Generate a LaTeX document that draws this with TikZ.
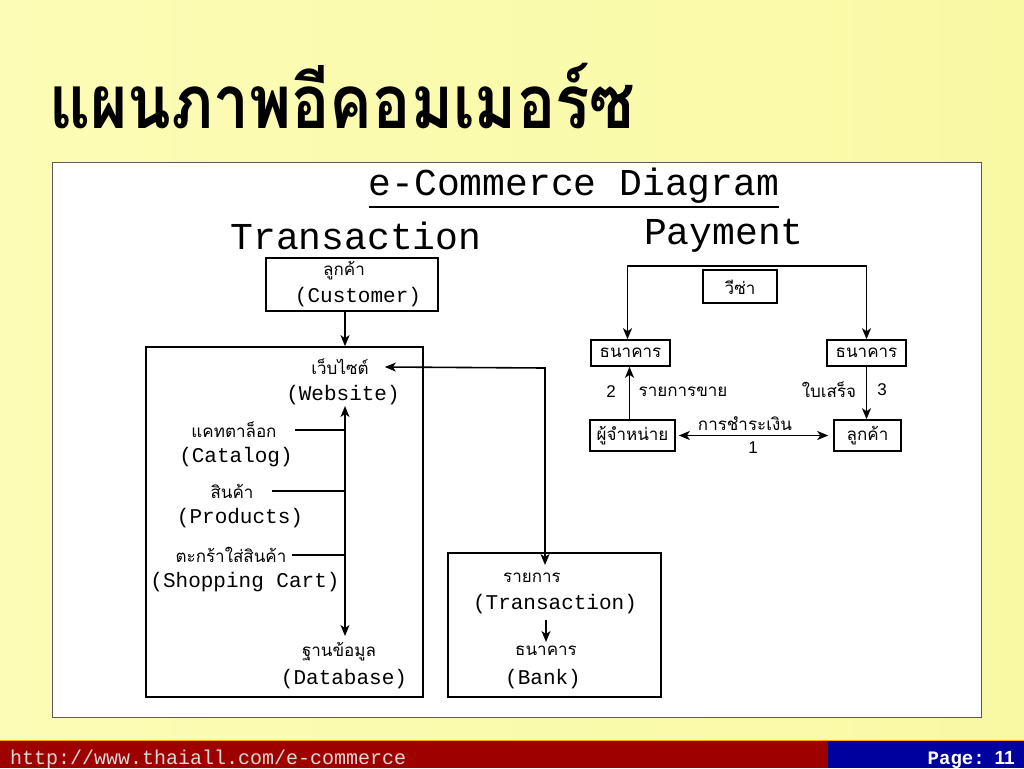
\documentclass[tikz,border=0pt]{standalone}
\usepackage{fontspec}
\setmainfont{Liberation Sans}
\newfontfamily\thaifont[Script=Thai]{Loma}
\newfontfamily\monofont{Liberation Mono}
\usetikzlibrary{arrows.meta, positioning}
\definecolor{slidelight}{RGB}{252,252,182}
\definecolor{slideyellow}{RGB}{249,249,164}
\definecolor{barred}{RGB}{158,0,0}
\definecolor{barblue}{RGB}{0,0,158}

\begin{document}
\begin{tikzpicture}[x=1pt, y=-1pt,
  box/.style={draw, line width=1.6pt, inner sep=0pt},
  th/.style={font=\thaifont\fontsize{17}{19}\selectfont, inner sep=0pt},
  en/.style={font=\monofont\fontsize{21}{23}\selectfont, inner sep=0pt},
  head/.style={font=\monofont\fontsize{38}{40}\selectfont, inner sep=0pt},
  num/.style={font=\fontsize{17}{19}\selectfont, inner sep=0pt},
  link/.style={line width=1.6pt},
  arr/.style={line width=1.6pt, -{Stealth[length=11pt, width=9pt, inset=3pt]}},
  dblarr/.style={line width=1.6pt, {Stealth[length=11pt, width=9pt, inset=3pt]}-{Stealth[length=11pt, width=9pt, inset=3pt]}}
]
  \useasboundingbox (0,0) rectangle (1024,768);
  % slide background
  \shade[left color=slidelight, right color=slideyellow] (0,0) rectangle (1024,740);
  \node[font=\thaifont\bfseries\fontsize{62}{66}\selectfont, inner sep=0pt] (title) at (342,96) {\scalebox{1.03}[1.2]{แผนภาพอีคอมเมอร์ซ}};
  \draw[fill=white, draw=black!65, line width=1pt] (52,162) rectangle (981,717);

  % headings
  \node[head] (diag) at (574,186) {e-Commerce Diagram};
  \draw[line width=1.6pt] ([yshift=-3pt]diag.south west) -- ([yshift=-3pt]diag.south east);
  \node[head] (trhead) at (356,236) {Transaction};
  \node[head] (payhead) at (724,236) {Payment};

  % transaction side
  \node[box, minimum width=172, minimum height=53] (custbox) at (352,284.5) {};
  \node[th] (custth) at (344,271) {ลูกค้า};
  \node[en] (custen) at (358,297) {(Customer)};
  \node[box, minimum width=277, minimum height=350] (webbox) at (284.5,522) {};
  \node[th] (webth) at (340,367) {เว็บไซต์};
  \node[en] (weben) at (343,395) {(Website)};
  \node[th] (catth) at (234,430) {แคทตาล็อก};
  \node[en] (caten) at (236,457) {(Catalog)};
  \node[th] (prodth) at (232,491) {สินค้า};
  \node[en] (proden) at (240,518) {(Products)};
  \node[th] (cartth) at (231,555) {ตะกร้าใส่สินค้า};
  \node[en] (carten) at (245,582) {(Shopping Cart)};
  \node[th] (dbth) at (339,652) {ฐานข้อมูล};
  \node[en] (dben) at (344,679) {(Database)};
  \node[box, minimum width=213, minimum height=144] (tranbox) at (554.5,625) {};
  \node[th] (tranth) at (532,578) {รายการ};
  \node[en] (tranen) at (555,604) {(Transaction)};
  \node[th] (bankth) at (546,651) {ธนาคาร};
  \node[en] (banken) at (543,679) {(Bank)};

  \coordinate (sptop) at (345,406);
  \coordinate (spbot) at (345,636);
  \coordinate (bend) at (545,368);
  \draw[arr] (custbox.south -| sptop) -- (webbox.north -| sptop);
  \draw[dblarr] (sptop) -- (spbot);
  \draw[link] ([xshift=18pt]catth.east) -- (catth.east -| sptop);
  \draw[link] ([xshift=18pt]prodth.east) -- (prodth.east -| sptop);
  \draw[link] ([xshift=5pt]cartth.east) -- (cartth.east -| sptop);
  \draw[dblarr] ([xshift=16pt]webth.east) -- (bend) -- ([yshift=8pt]tranth.north -| bend);
  \draw[arr] ([yshift=-6pt]tranen.south -| bankth) -- ([yshift=4pt]bankth.north);

  % payment side
  \node[box, minimum width=74, minimum height=33] (visa) at (740,286.5) {};
  \node[th] (visath) at (740,287) {วีซ่า};
  \node[box, minimum width=79, minimum height=26] (bankl) at (630.5,353) {};
  \node[th] (banklth) at (630.5,353) {ธนาคาร};
  \node[box, minimum width=79, minimum height=26] (bankr) at (866.5,353) {};
  \node[th] (bankrth) at (866.5,353) {ธนาคาร};
  \node[box, minimum width=85, minimum height=31] (vendor) at (632.5,435.5) {};
  \node[th] (vendorth) at (632.5,436) {ผู้จำหน่าย};
  \node[box, minimum width=67, minimum height=31] (custr) at (867.5,435.5) {};
  \node[th] (custrth) at (867.5,436) {ลูกค้า};

  \coordinate (vtop) at (740,266);
  \draw[arr] (vtop) -| ([xshift=-3pt]bankl.north);
  \draw[arr] (vtop) -| (bankr.north);
  \draw[arr] ([xshift=-1pt]bankl.south |- vendor.north) -- ([xshift=-1pt]bankl.south);
  \draw[arr] (bankr.south) -- (bankr.south |- custr.north);
  \draw[dblarr] ([xshift=3pt]vendor.east) -- ([xshift=-5pt]custr.west);
  \node[num] (two) at (611,392) {2};
  \node[th] (sale) at (683,392) {รายการขาย};
  \node[th] (receipt) at (829,390) {ใบเสร็จ};
  \node[num] (three) at (882,390) {3};
  \node[th] (pay) at (745,424) {การชำระเงิน};
  \node[num] (one) at (753,448) {1};

  % footer bar
  \fill[barred] (0,740) rectangle (828,768);
  \fill[barblue] (828,740) rectangle (1024,768);
  \draw[orange!70!yellow, line width=1pt] (0,740) -- (1024,740);
  \node[font=\monofont\fontsize{20}{22}\selectfont, text=black!15, anchor=west, inner sep=0pt] (url) at (10,759) {http://www.thaiall.com/e-commerce};
  \node[font=\bfseries\fontsize{19}{21}\selectfont, text=white, anchor=east, inner sep=0pt] (page) at (1015,760) {{\monofont Page:}\hspace{10pt}11};
\end{tikzpicture}
\end{document}
